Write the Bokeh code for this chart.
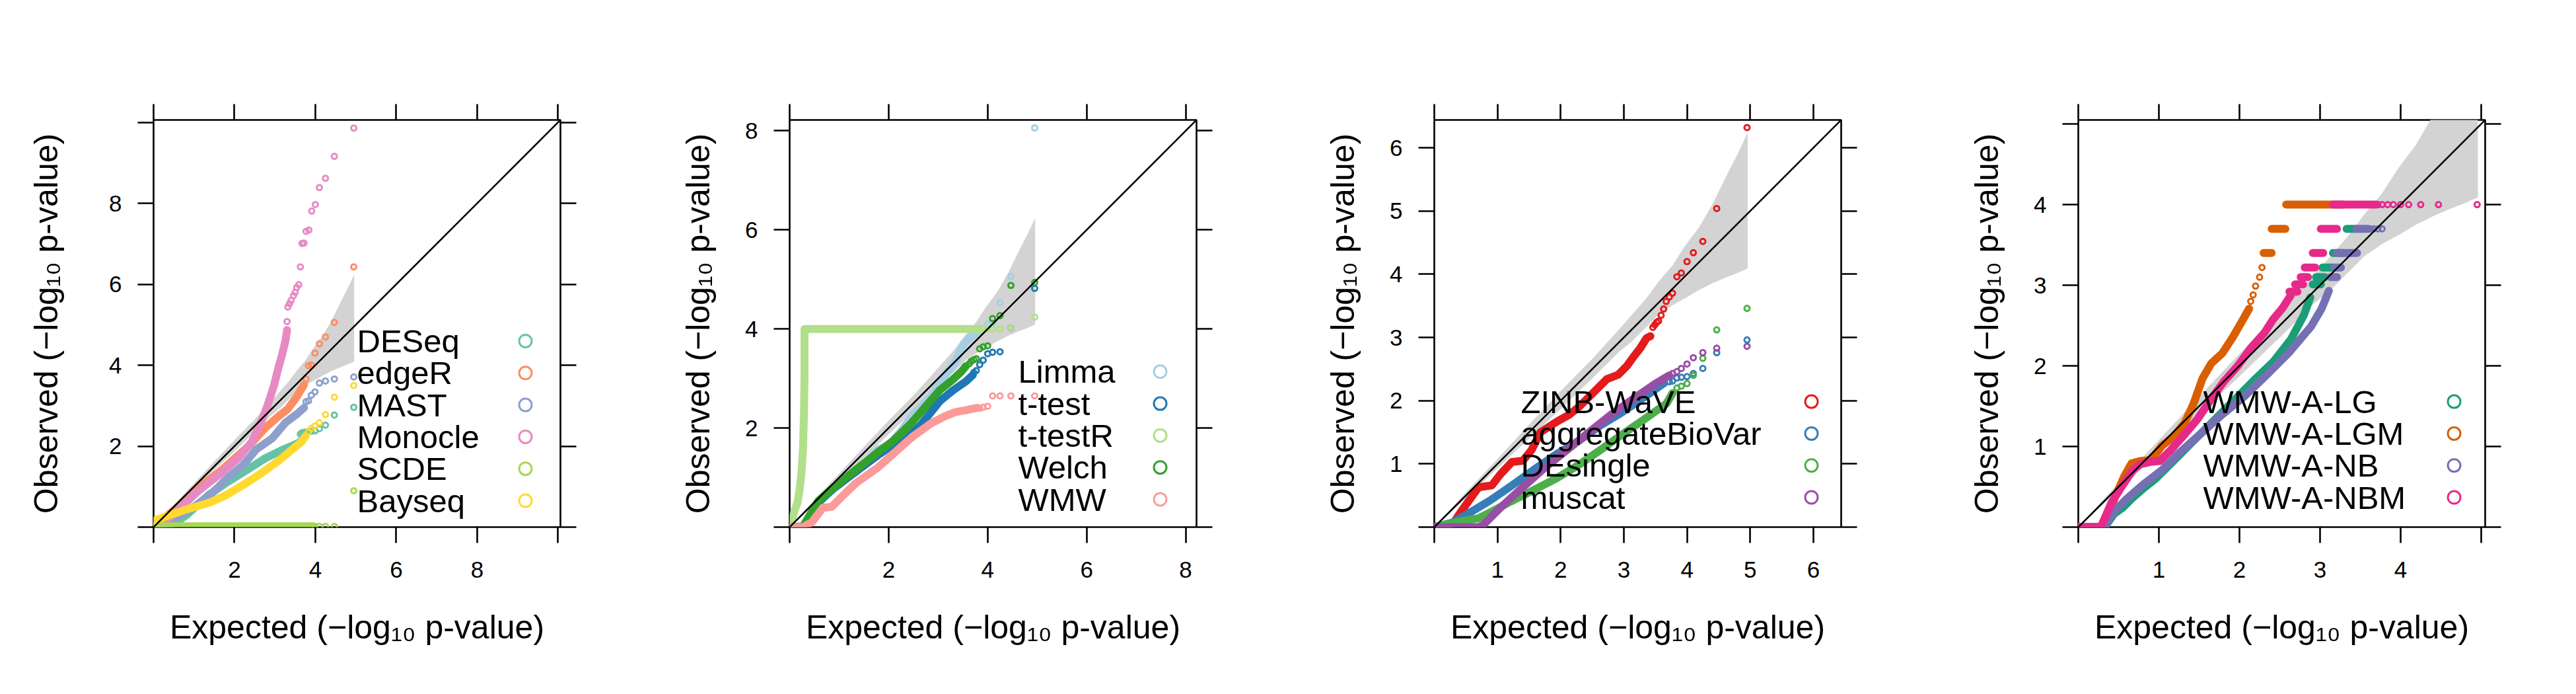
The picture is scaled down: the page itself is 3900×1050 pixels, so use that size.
import numpy as np
from bokeh.plotting import figure
from bokeh.models import Range1d, LinearAxis, FixedTicker, Slope, CustomJSTickFormatter
from bokeh.layouts import row
from bokeh.embed import file_html
from bokeh.resources import INLINE
from bokeh.core.properties import value

FONT = "Liberation Sans"
nan = float("nan")

X_LABEL = "Expected (\u2212log\u2081\u2080 p-value)"
Y_LABEL = "Observed (\u2212log\u2081\u2080 p-value)"

# ---------------- shared confidence band (expected vs. observed) ----------------
BAND_X = [0.0, 0.5, 1.0, 1.5, 2.0, 2.5, 2.9, 3.13, 3.34, 3.55, 3.77, 3.97, 4.19, 4.41, 4.62, 4.80, 4.96]
BAND_UPPER = [0.0, 0.55, 1.08, 1.62, 2.15, 2.66, 3.10, 3.36, 3.60, 3.88, 4.14, 4.45, 4.74, 5.12, 5.55, 5.90, 6.24]
BAND_LOWER = [0.0, 0.45, 0.93, 1.40, 1.87, 2.35, 2.75, 2.94, 3.15, 3.36, 3.51, 3.62, 3.75, 3.86, 3.95, 4.02, 4.09]

# ---------------- panel 1 ----------------
P1_NAMES = ["DESeq", "edgeR", "MAST", "Monocle", "SCDE", "Bayseq"]
P1_COLORS = ["#66C2A5", "#FC8D62", "#8DA0CB", "#E78AC3", "#A6D854", "#FFD92F"]
P1_TICKS = [0, 2, 4, 6, 8, 10]
P1_LABELED = [2, 4, 6, 8]

DESEQ_X = [0, 0.26, 0.54, 0.82, 1.09, 1.37, 1.82, 2.32, 2.76, 3.21, 3.59, 3.66]
DESEQ_Y = [0, 0.03, 0.11, 0.30, 0.55, 0.80, 1.11, 1.42, 1.70, 1.92, 2.08, 2.14]
DESEQ_TX = [3.63, 3.67, 3.72, 3.77, 3.83, 3.90, 3.99, 4.10, 4.25, 4.47, 4.95]
DESEQ_TY = [2.30, 2.33, 2.34, 2.35, 2.36, 2.37, 2.38, 2.43, 2.52, 2.77, 2.96]

EDGER_X = [0, 0.26, 0.54, 0.82, 1.21, 1.65, 2.01, 2.37, 2.76, 3.09, 3.32, 3.54, 3.72]
EDGER_Y = [0, 0.22, 0.45, 0.68, 1.05, 1.38, 1.70, 2.02, 2.45, 2.74, 2.92, 3.22, 3.52]
EDGER_TX = [3.77, 3.83, 3.90, 3.99, 4.10, 4.25, 4.47, 4.95]
EDGER_TY = [3.66, 3.99, 4.01, 4.30, 4.53, 4.70, 5.06, 6.43]

MAST_X = [0, 0.26, 0.54, 0.98, 1.43, 1.82, 2.21, 2.54, 2.93, 3.26, 3.54, 3.72]
MAST_Y = [0, 0.08, 0.22, 0.49, 0.82, 1.21, 1.53, 1.92, 2.19, 2.58, 2.79, 2.95]
MAST_TX = [3.77, 3.83, 3.90, 3.99, 4.10, 4.25, 4.47, 4.95]
MAST_TY = [3.10, 3.12, 3.26, 3.34, 3.56, 3.61, 3.66, 3.71]

MONOCLE_X = [0, 0.26, 0.54, 1.09, 1.65, 2.09, 2.43, 2.65, 2.82, 2.98, 3.09, 3.18, 3.26, 3.30]
MONOCLE_Y = [0, 0.12, 0.36, 0.88, 1.32, 1.70, 2.11, 2.58, 3.01, 3.51, 3.95, 4.27, 4.60, 4.87]
MONOCLE_TX = [3.30, 3.32, 3.36, 3.40, 3.46, 3.50, 3.54, 3.59, 3.63, 3.67, 3.72, 3.77, 3.84, 3.91, 4.00, 4.10, 4.25, 4.47, 4.95]
MONOCLE_TY = [5.08, 5.44, 5.52, 5.60, 5.72, 5.80, 5.92, 5.99, 6.43, 7.01, 7.02, 7.31, 7.34, 7.81, 7.97, 8.39, 8.62, 9.16, 9.86]

SCDE_X = [0, 3.95]
SCDE_Y = [0.02, 0.02]
SCDE_TX = [3.99, 4.10, 4.25, 4.47, 4.95]
SCDE_TY = [0.02, 0.02, 0.02, 0.02, 0.90]

BAYSEQ_X = [0, 0.32, 0.82, 1.37, 1.76, 2.21, 2.65, 3.09, 3.43, 3.65, 3.76]
BAYSEQ_Y = [0.15, 0.27, 0.44, 0.60, 0.77, 1.04, 1.32, 1.64, 1.92, 2.10, 2.25]
BAYSEQ_TX = [3.83, 3.90, 3.99, 4.10, 4.25, 4.47, 4.95]
BAYSEQ_TY = [2.36, 2.44, 2.50, 2.58, 2.78, 3.21, 3.50]

# ---------------- panel 2 ----------------
P2_NAMES = ["Limma", "t-test", "t-testR", "Welch", "WMW"]
P2_COLORS = ["#A6CEE3", "#1F78B4", "#B2DF8A", "#33A02C", "#FB9A99"]
P2_TICKS = [0, 2, 4, 6, 8]
P2_LABELED = [2, 4, 6, 8]

LIMMA_X = [0, 0.27, 0.67, 1.11, 1.34, 1.78, 2.00, 2.23, 2.49, 2.67, 2.85, 3.12, 3.34, 3.52, 3.65, 3.83]
LIMMA_Y = [0, 0.02, 0.58, 1.02, 1.11, 1.56, 1.65, 1.91, 2.27, 2.44, 2.63, 3.03, 3.33, 3.70, 3.83, 3.96]
LIMMA_TX = [3.91, 4.00, 4.10, 4.25, 4.47, 4.95]
LIMMA_TY = [4.00, 4.10, 4.12, 4.53, 5.06, 8.06]

TTEST_X = [0, 0.27, 0.58, 0.89, 1.34, 1.78, 2.09, 2.32, 2.67, 3.03, 3.30, 3.56, 3.70]
TTEST_Y = [0, 0.01, 0.50, 0.78, 1.12, 1.45, 1.66, 1.74, 2.09, 2.54, 2.76, 2.94, 3.07]
TTEST_TX = [3.72, 3.77, 3.84, 3.91, 4.00, 4.10, 4.25, 4.47, 4.95]
TTEST_TY = [3.12, 3.16, 3.28, 3.37, 3.50, 3.53, 3.54, 4.02, 4.82]

TTESTR_X = [0, 0.05, 0.10, 0.16, 0.20, 0.24, 0.27, 0.29, 0.30, 0.30, 0.30, 3.85]
TTESTR_Y = [0, 0.15, 0.33, 0.50, 0.75, 1.10, 1.60, 2.30, 3.00, 3.50, 4.00, 4.00]
TTESTR_TX = [3.91, 4.00, 4.10, 4.25, 4.47, 4.95]
TTESTR_TY = [4.00, 4.00, 4.00, 4.00, 4.02, 4.24]

WELCH_X = [0, 0.27, 0.58, 0.89, 1.34, 1.78, 2.09, 2.45, 2.76, 3.03, 3.30, 3.47, 3.56]
WELCH_Y = [0, 0.01, 0.53, 0.80, 1.16, 1.51, 1.74, 2.09, 2.45, 2.76, 2.98, 3.14, 3.25]
WELCH_TX = [3.63, 3.67, 3.72, 3.77, 3.84, 3.91, 4.00, 4.10, 4.25, 4.47, 4.95]
WELCH_TY = [3.30, 3.35, 3.38, 3.40, 3.60, 3.64, 3.66, 4.21, 4.27, 4.88, 4.94]

WMW_X = [0, 0.27, 0.45, 0.67, 0.85, 1.11, 1.34, 1.78, 2.23, 2.49, 2.85, 3.12, 3.34, 3.56, 3.79]
WMW_Y = [0, 0.00, 0.10, 0.39, 0.41, 0.67, 0.89, 1.20, 1.60, 1.83, 2.09, 2.23, 2.32, 2.36, 2.41]
WMW_TX = [3.84, 3.91, 4.00, 4.10, 4.25, 4.47, 4.95]
WMW_TY = [2.40, 2.42, 2.44, 2.65, 2.65, 2.65, 2.65]

# ---------------- panel 3 ----------------
P3_NAMES = ["ZINB-WaVE", "aggregateBioVar", "DEsingle", "muscat"]
P3_COLORS = ["#E41A1C", "#377EB8", "#4DAF4A", "#984EA3"]
P3_TICKS = [0, 1, 2, 3, 4, 5, 6]
P3_LABELED = [1, 2, 3, 4, 5, 6]

ZINB_X = [0, 0.28, 0.42, 0.70, 0.91, 1.05, 1.23, 1.40, 1.54, 1.68, 1.96, 2.14, 2.31, 2.52, 2.73, 2.91, 3.05, 3.15, 3.26, 3.36, 3.42]
ZINB_Y = [0, 0.03, 0.24, 0.63, 0.66, 0.84, 1.03, 1.05, 1.22, 1.50, 1.68, 1.78, 1.92, 2.13, 2.34, 2.41, 2.55, 2.69, 2.83, 2.99, 3.02]
ZINB_TX = [3.46, 3.49, 3.52, 3.55, 3.59, 3.63, 3.67, 3.72, 3.77, 3.84, 3.91, 4.00, 4.10, 4.25, 4.47, 4.95]
ZINB_TY = [3.16, 3.20, 3.24, 3.26, 3.35, 3.45, 3.57, 3.64, 3.70, 3.96, 4.02, 4.20, 4.34, 4.52, 5.04, 6.32]

ABV_X = [0, 0.28, 0.53, 0.88, 1.23, 1.58, 1.93, 2.28, 2.63, 2.98, 3.33, 3.64]
ABV_Y = [0, 0.07, 0.21, 0.42, 0.66, 0.91, 1.15, 1.36, 1.61, 1.82, 2.06, 2.28]
ABV_TX = [3.72, 3.77, 3.84, 3.91, 4.00, 4.10, 4.25, 4.47, 4.95]
ABV_TY = [2.30, 2.31, 2.36, 2.37, 2.38, 2.43, 2.51, 2.76, 2.96]

DESINGLE_X = [0, 0.30, 0.70, 0.90, 1.16, 1.58, 1.93, 2.28, 2.63, 2.98, 3.33, 3.68, 3.77]
DESINGLE_Y = [0, 0.07, 0.14, 0.24, 0.38, 0.59, 0.77, 0.98, 1.22, 1.47, 1.71, 1.96, 2.12]
DESINGLE_TX = [3.84, 3.91, 4.00, 4.10, 4.25, 4.47, 4.95]
DESINGLE_TY = [2.20, 2.23, 2.27, 2.40, 2.67, 3.12, 3.46]

MUSCAT_X = [0, 0.70, 0.77, 1.05, 1.40, 1.75, 2.10, 2.45, 2.80, 3.15, 3.50, 3.72]
MUSCAT_Y = [0, 0.00, 0.03, 0.31, 0.63, 0.94, 1.22, 1.50, 1.78, 2.03, 2.27, 2.40]
MUSCAT_TX = [3.77, 3.84, 3.91, 4.00, 4.10, 4.25, 4.47, 4.95]
MUSCAT_TY = [2.43, 2.46, 2.51, 2.58, 2.68, 2.76, 2.83, 2.86]

# ---------------- panel 4 ----------------
P4_NAMES = ["WMW-A-LG", "WMW-A-LGM", "WMW-A-NB", "WMW-A-NBM"]
P4_COLORS = ["#1B9E77", "#D95F02", "#7570B3", "#E7298A"]
P4_TICKS = [0, 1, 2, 3, 4, 5]
P4_LABELED = [1, 2, 3, 4]

LG_X = [0, 0.33, 0.44, 0.55, 0.66, 0.82, 0.96, 1.15, 1.37, 1.65, 1.92, 2.20, 2.42, 2.64, 2.80, 2.88,
        nan, 2.91, 3.01, nan, 2.95, 3.06, nan, 3.03, 3.18, nan, 3.16, 3.29, nan, 3.33, 3.46]
LG_Y = [0, 0.00, 0.16, 0.24, 0.35, 0.49, 0.60, 0.79, 1.01, 1.29, 1.56, 1.84, 2.05, 2.33, 2.63, 2.85,
        nan, 3.01, 3.01, nan, 3.10, 3.10, nan, 3.22, 3.22, nan, 3.40, 3.40, nan, 3.70, 3.70]
LG_TX = []
LG_TY = []

LGM_X = [0, 0.27, 0.35, 0.46, 0.57, 0.66, 0.77, 0.90, 1.04, 1.18, 1.32, 1.43, 1.54, 1.65, 1.79, 1.92, 2.03, 2.12,
         nan, 2.30, 2.40, nan, 2.40, 2.57, nan, 2.58, 3.29]
LGM_Y = [0, 0.00, 0.10, 0.38, 0.63, 0.79, 0.82, 0.83, 1.01, 1.12, 1.29, 1.53, 1.84, 2.03, 2.16, 2.36, 2.55, 2.71,
         nan, 3.40, 3.40, nan, 3.70, 3.70, nan, 4.00, 4.00]
LGM_TX = [2.14, 2.17, 2.20, 2.25, 2.28]
LGM_TY = [2.80, 2.88, 2.99, 3.10, 3.22]

NB_X = [0, 0.33, 0.44, 0.60, 0.82, 1.04, 1.23, 1.51, 1.79, 2.06, 2.34, 2.61, 2.89, 3.02, 3.11,
        nan, 3.13, 3.21, nan, 3.18, 3.26, nan, 3.21, 3.46, nan, 3.45, 3.60]
NB_Y = [0, 0.00, 0.19, 0.35, 0.54, 0.71, 0.90, 1.15, 1.40, 1.62, 1.89, 2.16, 2.49, 2.71, 2.93,
        nan, 3.10, 3.10, nan, 3.22, 3.22, nan, 3.40, 3.40, nan, 3.70, 3.70]
NB_TX = [3.63, 3.67, 3.72, 3.77]
NB_TY = [3.70, 3.70, 3.70, 3.70]

NBM_X = [0, 0.28, 0.41, 0.55, 0.68, 0.77, 0.90, 1.01, 1.15, 1.32, 1.48, 1.65, 1.81, 1.98, 2.14, 2.31, 2.42, 2.53, 2.64,
         nan, 2.62, 2.72, nan, 2.69, 2.79, nan, 2.76, 2.85, nan, 2.81, 2.94, nan, 2.91, 3.04, nan, 3.01, 3.21, nan, 3.16, 3.70]
NBM_Y = [0, 0.00, 0.30, 0.52, 0.71, 0.78, 0.81, 0.82, 0.96, 1.15, 1.34, 1.59, 1.81, 2.00, 2.22, 2.41, 2.58, 2.71, 2.88,
         nan, 2.92, 2.92, nan, 3.01, 3.01, nan, 3.10, 3.10, nan, 3.22, 3.22, nan, 3.40, 3.40, nan, 3.70, 3.70, nan, 4.00, 4.00]
NBM_TX = [3.72, 3.77, 3.84, 3.91, 4.00, 4.10, 4.25, 4.47, 4.95]
NBM_TY = [4.00, 4.00, 4.00, 4.00, 4.00, 4.00, 4.00, 4.00, 4.00]

# ---------------- layout constants (pixels) ----------------
FRAME = 616
TOP = 181
BOTTOM = 237
ROW_STEP = 48.3


def make_axis_common(ax, ticks, labeled):
    ax.ticker = FixedTicker(ticks=ticks)
    ax.formatter = CustomJSTickFormatter(args=dict(show=labeled),
                                         code="return show.includes(tick) ? String(tick) : '';")
    ax.major_tick_in = 0
    ax.major_tick_out = 24
    ax.major_tick_line_width = 2.6
    ax.major_tick_line_color = "black"
    ax.minor_tick_line_color = None
    ax.axis_line_color = None
    ax.major_label_text_font = FONT
    ax.major_label_text_font_size = "35px"
    ax.major_label_text_color = "black"
    ax.major_label_standoff = 24
    ax.axis_label_text_font = FONT
    ax.axis_label_text_font_size = "50px"
    ax.axis_label_text_font_style = "normal"
    ax.axis_label_text_color = "black"


def build(names, colors, series, rng, ticks, labeled, leg_text_px, leg_circ_px, leg_last_px,
          mbl, mbr, ylab_standoff):
    p = figure(frame_width=FRAME, frame_height=FRAME,
               x_range=Range1d(0, rng), y_range=Range1d(0, rng),
               output_backend="svg", toolbar_location=None,
               min_border_left=mbl, min_border_right=mbr,
               min_border_top=TOP, min_border_bottom=BOTTOM,
               background_fill_color="white", border_fill_color="white")
    p.xgrid.grid_line_color = None
    p.ygrid.grid_line_color = None
    p.outline_line_color = "black"
    p.outline_line_width = 2.6
    p.outline_line_alpha = 1.0

    make_axis_common(p.xaxis[0], ticks, labeled)
    make_axis_common(p.yaxis[0], ticks, labeled)
    p.xaxis[0].major_label_standoff = 28
    p.xaxis[0].axis_label = X_LABEL
    p.yaxis[0].axis_label = Y_LABEL
    p.xaxis[0].axis_label_standoff = 44
    p.yaxis[0].axis_label_standoff = ylab_standoff

    top_ax = LinearAxis()
    right_ax = LinearAxis()
    make_axis_common(top_ax, ticks, [])
    make_axis_common(right_ax, ticks, [])
    p.add_layout(top_ax, "above")
    p.add_layout(right_ax, "right")

    # confidence band
    p.varea(x=BAND_X, y1=BAND_LOWER, y2=BAND_UPPER, fill_color="#D3D3D3", fill_alpha=1.0)

    # series
    for (dx, dy, tx, ty), col in zip(series, colors):
        p.line(np.array(dx, dtype=float), np.array(dy, dtype=float), line_color=col,
               line_width=12, line_cap="round", line_join="round")
        if len(tx):
            p.scatter(tx, ty, marker="circle", size=8, fill_color=None,
                      line_color=col, line_width=3)

    # diagonal y = x
    p.add_layout(Slope(gradient=1, y_intercept=0, line_color="black", line_width=2.6))

    # key (text left, symbol right)
    n = len(names)
    unit = rng / FRAME
    ys = [(leg_last_px + (n - 1 - i) * ROW_STEP) * unit for i in range(n)]
    p.text(x=[leg_text_px * unit] * n, y=ys, text=names, text_font=value(FONT),
           text_font_size="49px", text_baseline="middle", text_align="left", text_color="black")
    p.scatter(x=[leg_circ_px * unit] * n, y=ys, marker="circle", size=19, fill_color=None,
              line_color=colors, line_width=3)
    return p


p1 = build(P1_NAMES, P1_COLORS,
           [(DESEQ_X, DESEQ_Y, DESEQ_TX, DESEQ_TY), (EDGER_X, EDGER_Y, EDGER_TX, EDGER_TY),
            (MAST_X, MAST_Y, MAST_TX, MAST_TY), (MONOCLE_X, MONOCLE_Y, MONOCLE_TX, MONOCLE_TY),
            (SCDE_X, SCDE_Y, SCDE_TX, SCDE_TY), (BAYSEQ_X, BAYSEQ_Y, BAYSEQ_TX, BAYSEQ_TY)],
           10.06, P1_TICKS, P1_LABELED, 308, 563, 40, 232, 119, 64)
p2 = build(P2_NAMES, P2_COLORS,
           [(LIMMA_X, LIMMA_Y, LIMMA_TX, LIMMA_TY), (TTEST_X, TTEST_Y, TTEST_TX, TTEST_TY),
            (TTESTR_X, TTESTR_Y, TTESTR_TX, TTESTR_TY), (WELCH_X, WELCH_Y, WELCH_TX, WELCH_TY),
            (WMW_X, WMW_Y, WMW_TX, WMW_TY)],
           8.22, P2_TICKS, P2_LABELED, 346, 561, 42, 228, 131, 40)
p3 = build(P3_NAMES, P3_COLORS,
           [(ZINB_X, ZINB_Y, ZINB_TX, ZINB_TY), (ABV_X, ABV_Y, ABV_TX, ABV_TY),
            (DESINGLE_X, DESINGLE_Y, DESINGLE_TX, DESINGLE_TY), (MUSCAT_X, MUSCAT_Y, MUSCAT_TX, MUSCAT_TY)],
           6.44, P3_TICKS, P3_LABELED, 131, 571, 45, 229, 130, 40)
p4 = build(P4_NAMES, P4_COLORS,
           [(LG_X, LG_Y, LG_TX, LG_TY), (LGM_X, LGM_Y, LGM_TX, LGM_TY),
            (NB_X, NB_Y, NB_TX, NB_TY), (NBM_X, NBM_Y, NBM_TX, NBM_TY)],
           5.05, P4_TICKS, P4_LABELED, 189, 569, 45, 229, 122, 40)

layout = row(p1, p2, p3, p4)
open("out.html", "w").write(file_html(layout, INLINE))
